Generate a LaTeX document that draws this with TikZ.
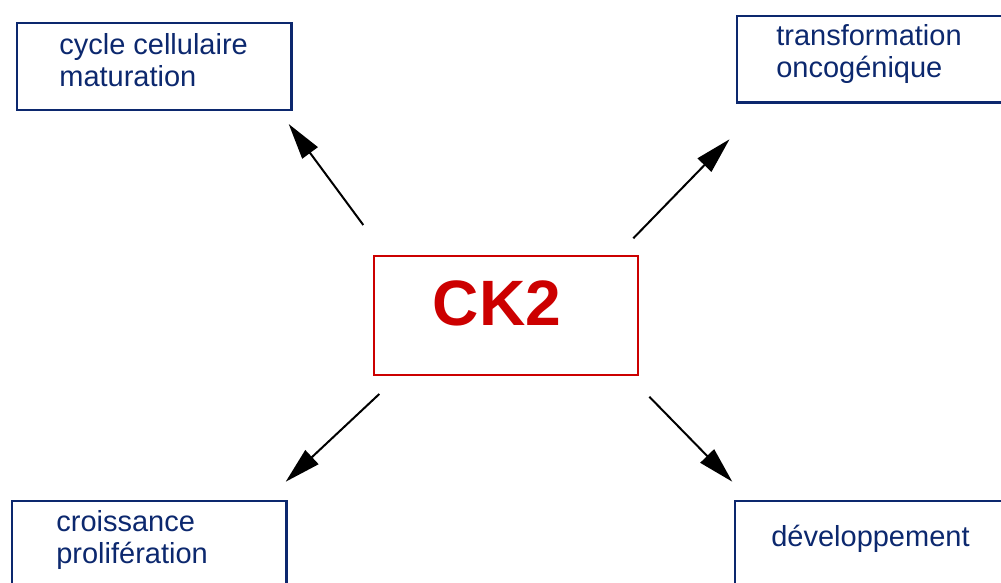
\documentclass[tikz,border=0pt]{standalone}
\usepackage{fontspec}
\setmainfont{Liberation Sans}
\usepackage{tikz}
\usepackage{xcolor}
\usetikzlibrary{positioning, arrows.meta}

\definecolor{navy}{RGB}{12,40,110}
\definecolor{ckred}{RGB}{204,0,0}

\begin{document}
\begin{tikzpicture}[x=0.02cm, y=-0.02cm,
    box/.style={draw=navy, line width=0.045cm, inner sep=0pt, outer sep=0pt,
      minimum width=5.49cm, minimum height=1.73cm, anchor=north west},
    lbl/.style={text=navy, inner sep=0pt, align=left, anchor=base west,
      font=\fontsize{16.5}{18.2}\selectfont},
    arr/.style={line width=0.04cm, -{Triangle[length=0.72cm, width=0.38cm]}}]

  % Frame
  \clip (0,0) rectangle (1001,582);

  % Centre
  \node[draw=ckred, line width=0.045cm, inner sep=0pt, outer sep=0pt,
    minimum width=5.28cm, minimum height=2.38cm, anchor=north west] (ckbox) at (374.3,255.7) {};
  \node[text=ckred, inner sep=0pt, anchor=base west,
    font=\fontsize{36.5}{40}\selectfont\bfseries] (ck) at (432.5,325) {CK2};

  % Boxes
  \node[box] (cycbox) at (17,23.3) {};
  \node[lbl] (cyc) at (59,86) {cycle cellulaire\\maturation};

  \node[box] (transbox) at (737,16) {};
  \node[lbl] (trans) at (776,77.3) {transformation\\oncogénique};

  \node[box] (croissbox) at (12,501) {};
  \node[lbl] (croiss) at (56,563) {croissance\\prolifération};

  \node[box] (devbox) at (735.3,501) {};
  \node[lbl] (dev) at (771,546.7) {développement};

  % Arrows
  \coordinate (t1) at (363.3,225);   \coordinate (h1) at (288.7,124);
  \coordinate (t2) at (633.3,238.3); \coordinate (h2) at (729.5,139.3);
  \coordinate (t3) at (379.3,394);   \coordinate (h3) at (285.7,481.7);
  \coordinate (t4) at (649.3,396.7); \coordinate (h4) at (732.3,481.7);
  \foreach \i in {1,...,4}
    \draw[arr] (t\i) -- (h\i);

\end{tikzpicture}
\end{document}
